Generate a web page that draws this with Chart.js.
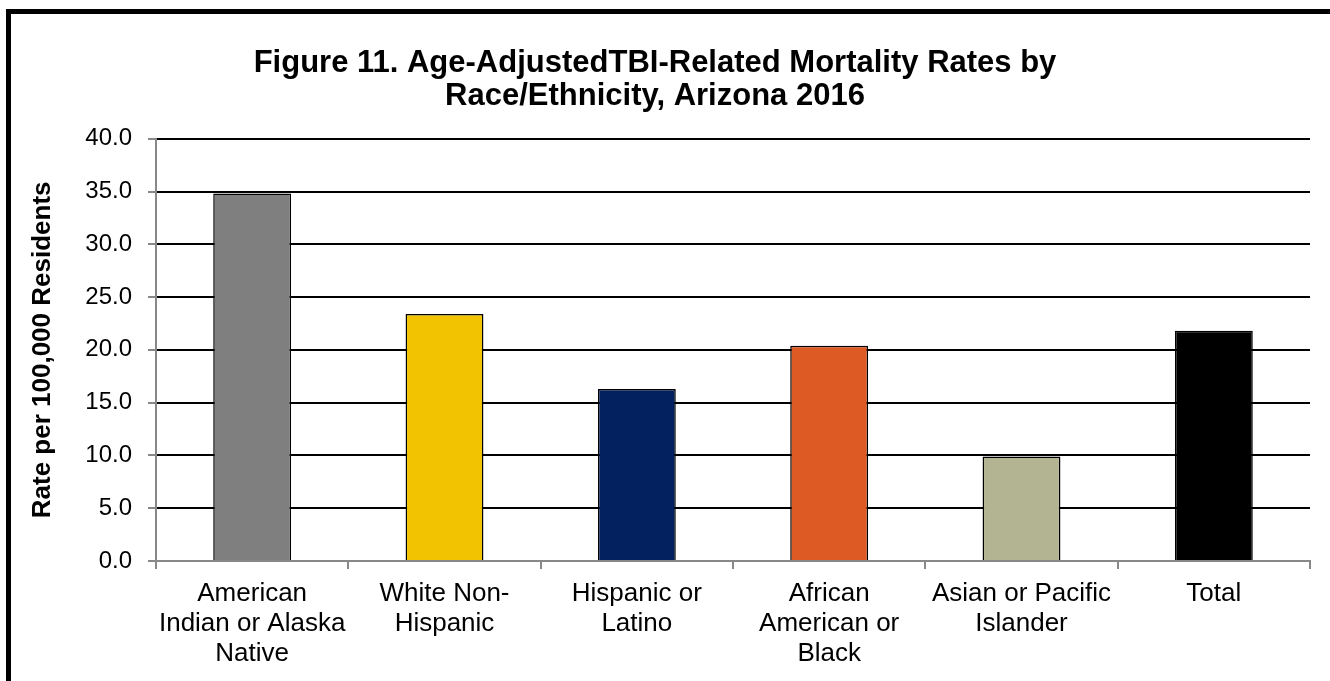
<!DOCTYPE html>
<html>
<head>
<meta charset="utf-8">
<script src="https://cdn.jsdelivr.net/npm/chart.js@4"></script>
<style>
  html, body { margin: 0; padding: 0; background: #fff; }
  #wrap { width: 1330px; height: 681px; }
</style>
</head>
<body>
<div id="wrap"><canvas id="chart" width="1330" height="681"></canvas></div>
<script>
const categories = [
    ['American', 'Indian or Alaska', 'Native'],
    ['White Non-', 'Hispanic'],
    ['Hispanic or', 'Latino'],
    ['African', 'American or', 'Black'],
    ['Asian or Pacific', 'Islander'],
    'Total',
];
const rates = [34.8, 23.4, 16.3, 20.4, 9.9, 21.8];
const barColors = ['#7f7f7f', '#f2c300', '#03215e', '#dd5a24', '#b3b592', '#000000'];
const yTicks = [0, 5, 10, 15, 20, 25, 30, 35, 40];
const titleLines = ['Figure 11. Age-AdjustedTBI-Related Mortality Rates by', 'Race/Ethnicity, Arizona 2016'];

const FONT = "'Liberation Sans', Arial, sans-serif";

// thick outer frame, cropped on the right and bottom like the source image
const framePlugin = {
    id: 'frame',
    afterDraw(chart) {
        const ctx = chart.ctx;
        ctx.save();
        ctx.strokeStyle = '#000';
        ctx.lineWidth = 5;
        ctx.strokeRect(8.5, 11.5, chart.width + 20, chart.height + 20);
        ctx.restore();
    },
};

const ctx = document.getElementById('chart').getContext('2d');
new Chart(ctx, {
    type: 'bar',
    data: {
        labels: categories,
        datasets: [
            {
                label: 'Rate',
                data: rates,
                backgroundColor: barColors,
                borderColor: '#000',
                borderWidth: 1.5,
                categoryPercentage: 1,
                barPercentage: 0.405,
            },
        ],
    },
    options: {
        responsive: false,
        animation: false,
        devicePixelRatio: 1,
        layout: { padding: { left: 0, right: 20, top: 0, bottom: 2 } },
        plugins: {
            legend: { display: false },
            tooltip: { enabled: false },
            title: {
                display: true,
                text: titleLines,
                color: '#000',
                font: { family: FONT, size: 31, weight: 'bold', lineHeight: 1.06 },
                padding: { top: 47, bottom: 26 },
            },
        },
        scales: {
            x: {
                offset: true,
                grid: {
                    display: true,
                    drawOnChartArea: false,
                    tickColor: '#888',
                    tickLength: 8,
                    lineWidth: 2,
                },
                border: { color: '#888', width: 2 },
                ticks: {
                    color: '#000',
                    font: { family: FONT, size: 26, lineHeight: 1.154 },
                    padding: 10,
                    maxRotation: 0,
                    autoSkip: false,
                },
            },
            y: {
                min: 0,
                max: 40,
                afterFit(scale) { scale.width = 156; },
                afterBuildTicks(scale) { scale.ticks = yTicks.map(v => ({ value: v })); },
                grid: {
                    color: '#000',
                    lineWidth: 2,
                    tickColor: '#888',
                    tickLength: 8,
                },
                border: { color: '#888', width: 2 },
                ticks: {
                    color: '#000',
                    font: { family: FONT, size: 24 },
                    padding: 16,
                    callback: v => v.toFixed(1),
                },
                title: {
                    display: true,
                    text: 'Rate per 100,000 Residents',
                    color: '#000',
                    font: { family: FONT, size: 26, weight: 'bold' },
                    padding: { top: 27, bottom: 0 },
                },
            },
        },
    },
    plugins: [framePlugin],
});
</script>
</body>
</html>
